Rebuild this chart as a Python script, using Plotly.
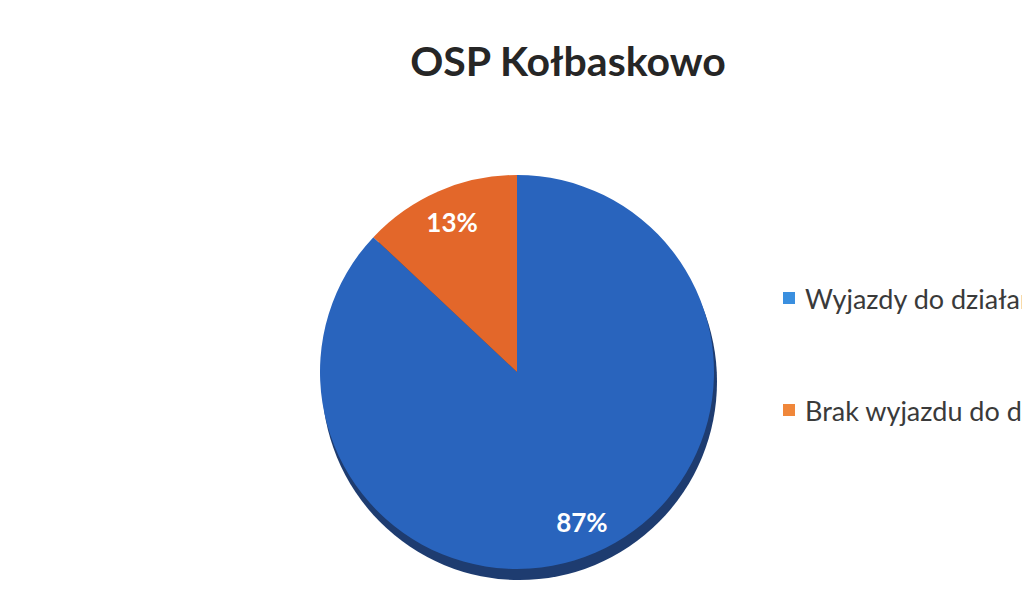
import plotly.graph_objects as go

# ---- data ----
labels = ["Wyjazdy do działań", "Brak wyjazdu do działań"]
values = [87, 13]
colors = ["#2964BD", "#E3672A"]
swatch_colors = ["#3A8FDF", "#F0873A"]
title_text = "OSP Kołbaskowo"

OFF = 8  # page body margin
W, H = 1030 - OFF, 616 - OFF
cx, cy, R = 517, 372, 197  # pie centre / radius in reference px

def px_x(x):
    return (x - OFF) / W

def px_y(y):
    return 1 - (y - OFF) / H

dom_x = [px_x(cx - R), px_x(cx + R)]
dom_y = [px_y(cy + R), px_y(cy - R)]

fig = go.Figure()

# main pie
fig.add_trace(go.Pie(
    labels=labels, values=values, sort=False, direction="clockwise", rotation=0,
    marker=dict(colors=colors, line=dict(width=0)),
    textinfo="none", showlegend=False, hoverinfo="label+percent",
    domain=dict(x=dom_x, y=dom_y),
))
# label layer (transparent ring so that percentages sit near the rim)
fig.add_trace(go.Pie(
    labels=labels, values=values, sort=False, direction="clockwise", rotation=0,
    hole=0.66,
    marker=dict(colors=["rgba(0,0,0,0)"] * len(values), line=dict(width=0)),
    textinfo="percent", textposition="inside", insidetextorientation="horizontal",
    insidetextfont=dict(family="Lato", size=26, color="white", weight="bold"),
    showlegend=False, hoverinfo="skip",
    domain=dict(x=dom_x, y=dom_y),
))

shapes = []
# 3D-like shadow under the pie
shapes.append(dict(type="circle", xref="paper", yref="paper", layer="below",
                   x0=px_x(cx - R + 2), x1=px_x(cx + R + 3),
                   y0=px_y(cy + R + 11), y1=px_y(cy - R + 8),
                   fillcolor="#1E3C70", line=dict(width=0)))

annotations = []
leg_y = [298, 410]
for i, lab in enumerate(labels):
    y = leg_y[i]
    shapes.append(dict(type="rect", xref="paper", yref="paper",
                       x0=px_x(783), x1=px_x(795), y0=px_y(y + 6), y1=px_y(y - 6),
                       fillcolor=swatch_colors[i], line=dict(width=0)))
    annotations.append(dict(text=lab, xref="paper", yref="paper",
                            x=px_x(803), y=px_y(y), xanchor="left", yanchor="middle",
                            showarrow=False,
                            font=dict(family="Lato", size=27, color="#3a3a3a")))

fig.update_layout(
    width=W, height=H,
    margin=dict(l=0, r=0, t=0, b=0, autoexpand=False),
    paper_bgcolor="white", plot_bgcolor="white",
    title=dict(text=title_text, x=px_x(568), xanchor="center",
               y=px_y(62), yref="container", yanchor="middle",
               font=dict(family="Lato", size=41, color="#262626", weight="bold")),
    shapes=shapes, annotations=annotations,
    showlegend=False,
)

fig.write_html("out.html")
